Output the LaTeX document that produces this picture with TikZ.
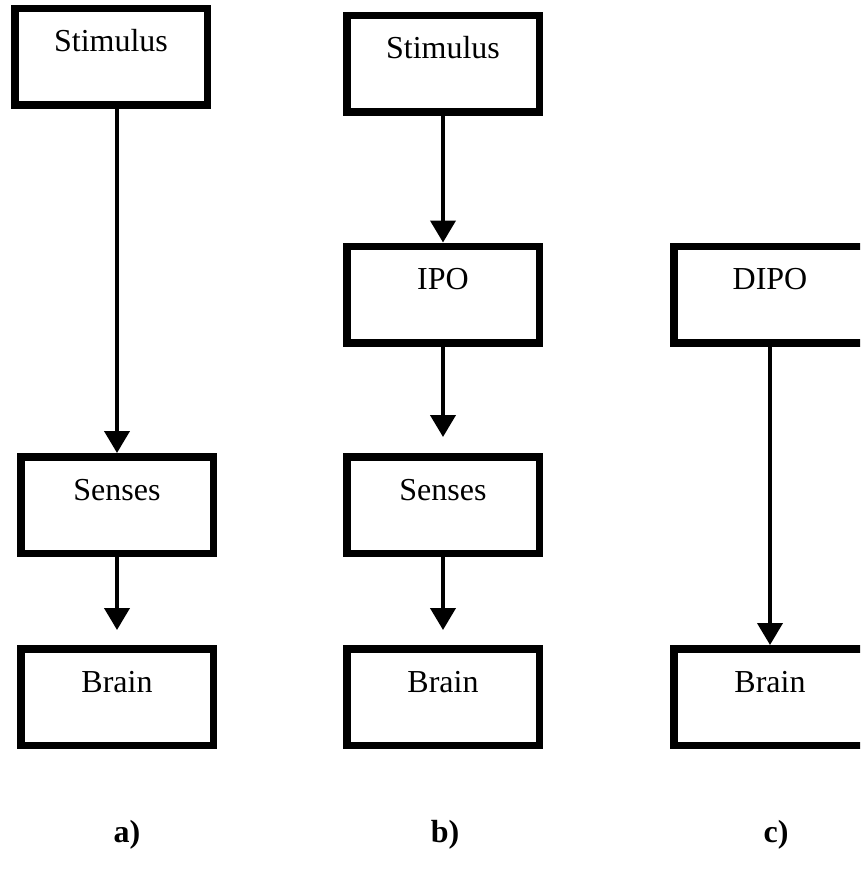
\documentclass[tikz,border=0pt]{standalone}
\usepackage{fontspec}
\setmainfont{Liberation Serif}
\usetikzlibrary{arrows.meta}
\tikzset{
  box/.style={draw=black, line width=7.5pt, fill=white, minimum width=192.5pt,
    minimum height=96.5pt, inner sep=0pt, text height=22pt, text depth=32pt,
    font=\fontsize{32}{38}\selectfont},
  conn/.style={line width=4pt, -{Triangle[width=25pt,length=22pt]}},
  caption/.style={font=\fontsize{32}{38}\selectfont\bfseries, anchor=base, inner sep=0pt}
}
\begin{document}
\begin{tikzpicture}[x=1pt,y=-1pt]
\useasboundingbox (0,0) rectangle (860,869);
\clip (0,0) rectangle (860,869);
% column a
\node[box] (sa) at (111,57) {Stimulus};
\node[box] (ea) at (117,505) {Senses};
\node[box] (ba) at (117,697) {Brain};
% column b
\node[box] (sb) at (443,64) {Stimulus};
\node[box] (ib) at (443,294.5) {IPO};
\node[box] (eb) at (443,505) {Senses};
\node[box] (bb) at (443,697) {Brain};
% column c
\node[box] (dc) at (770,294.5) {DIPO};
\node[box] (bc) at (770,697) {Brain};
% connectors
\draw[conn] (sa.south -| ea.north) -- (ea.north);
\draw[conn, shorten >=15pt] (ea.south) -- (ba.north);
\draw[conn] (sb.south) -- (ib.north);
\draw[conn, shorten >=16pt] (ib.south) -- (eb.north);
\draw[conn, shorten >=15pt] (eb.south) -- (bb.north);
\draw[conn] (dc.south) -- (bc.north);
% captions
\node[caption] (la) at (127,842) {a)};
\node[caption] (lb) at (445,842) {b)};
\node[caption] (lc) at (776,842) {c)};
\end{tikzpicture}
\end{document}
